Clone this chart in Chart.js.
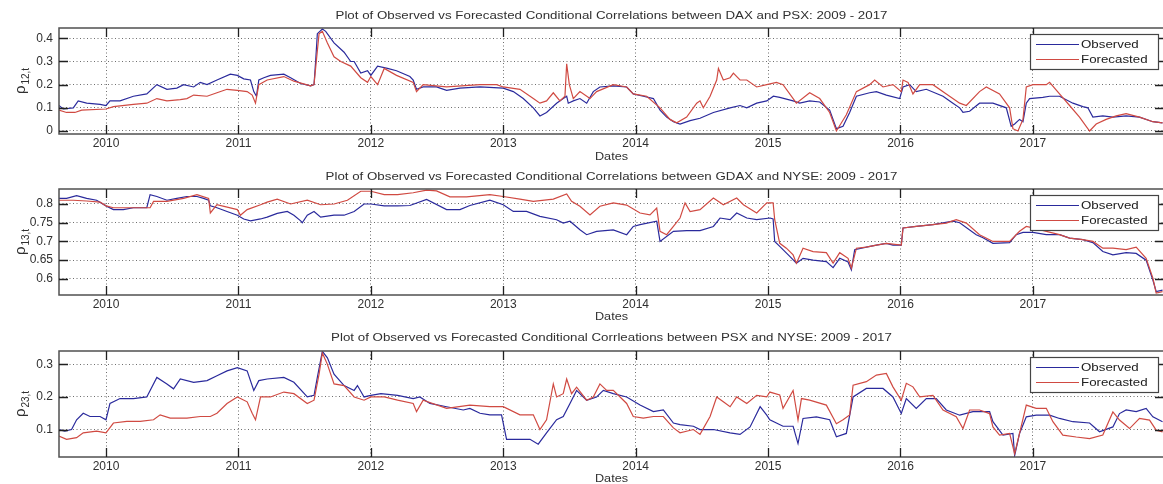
<!DOCTYPE html>
<html><head><meta charset="utf-8">
<script src="https://cdn.jsdelivr.net/npm/chart.js@4"></script>
<style>
body{margin:0;background:#fff;overflow:hidden;width:1163px;height:484px;position:relative}
canvas{position:absolute;left:0}
</style>
</head><body>
<canvas id="c1" width="1165" height="163" style="top:0px"></canvas>
<canvas id="c2" width="1165" height="160" style="top:163px"></canvas>
<canvas id="c3" width="1165" height="161" style="top:323px"></canvas>
<script>
// ---------- data (decimal year, correlation) ----------
const yearTicks = [2010, 2011, 2012, 2013, 2014, 2015, 2016, 2017];
const xLabel = "Dates";
const seriesNames = ["Observed", "Forecasted"];

const title1 = "Plot of Observed vs Forecasted Conditional Correlations between DAX and PSX: 2009 - 2017";
const title2 = "Plot of Observed vs Forecasted Conditional Correlations between GDAX and NYSE: 2009 - 2017";
const title3 = "Plot of Observed vs Forecasted Conditional Corrleations between PSX and NYSE: 2009 - 2017";
const yTicks1 = [0, 0.1, 0.2, 0.3, 0.4];
const yTicks2 = [0.6, 0.65, 0.7, 0.75, 0.8];
const yTicks3 = [0.1, 0.2, 0.3];

const daxPsxObserved = [[2009.644,0.11],[2009.677,0.095],[2009.753,0.1],[2009.790,0.13],[2009.854,0.12],[2009.955,0.115],[2010.000,0.11],[2010.030,0.13],[2010.106,0.13],[2010.207,0.15],[2010.308,0.16],[2010.384,0.2],[2010.460,0.18],[2010.535,0.185],[2010.586,0.2],[2010.662,0.19],[2010.712,0.21],[2010.763,0.2],[2010.838,0.22],[2010.939,0.245],[2010.992,0.24],[2011.040,0.225],[2011.091,0.22],[2011.116,0.17],[2011.136,0.15],[2011.154,0.22],[2011.192,0.23],[2011.242,0.24],[2011.343,0.245],[2011.394,0.23],[2011.470,0.205],[2011.545,0.195],[2011.571,0.2],[2011.583,0.3],[2011.596,0.42],[2011.634,0.44],[2011.659,0.43],[2011.722,0.38],[2011.798,0.34],[2011.848,0.3],[2011.874,0.3],[2011.924,0.25],[2011.975,0.26],[2012.000,0.24],[2012.051,0.28],[2012.126,0.27],[2012.194,0.26],[2012.295,0.235],[2012.320,0.22],[2012.345,0.18],[2012.395,0.19],[2012.496,0.19],[2012.572,0.175],[2012.673,0.185],[2012.824,0.19],[2013.000,0.185],[2013.076,0.17],[2013.151,0.14],[2013.227,0.1],[2013.277,0.065],[2013.327,0.08],[2013.403,0.12],[2013.453,0.14],[2013.479,0.15],[2013.491,0.12],[2013.529,0.13],[2013.579,0.14],[2013.630,0.12],[2013.680,0.17],[2013.730,0.19],[2013.831,0.195],[2013.932,0.19],[2013.982,0.16],[2014.058,0.15],[2014.134,0.14],[2014.184,0.09],[2014.234,0.06],[2014.285,0.04],[2014.335,0.03],[2014.411,0.045],[2014.486,0.055],[2014.587,0.08],[2014.713,0.1],[2014.788,0.11],[2014.839,0.1],[2014.914,0.12],[2014.990,0.13],[2015.040,0.15],[2015.088,0.145],[2015.189,0.13],[2015.239,0.12],[2015.314,0.13],[2015.390,0.125],[2015.465,0.09],[2015.516,0.01],[2015.566,0.02],[2015.616,0.08],[2015.667,0.15],[2015.767,0.165],[2015.818,0.17],[2015.893,0.155],[2015.994,0.14],[2016.019,0.19],[2016.069,0.2],[2016.119,0.17],[2016.195,0.18],[2016.321,0.15],[2016.396,0.12],[2016.447,0.1],[2016.472,0.08],[2016.522,0.085],[2016.597,0.12],[2016.698,0.12],[2016.799,0.1],[2016.836,0.02],[2016.862,0.03],[2016.899,0.05],[2016.925,0.04],[2016.950,0.12],[2016.975,0.14],[2017.075,0.145],[2017.126,0.15],[2017.201,0.15],[2017.302,0.12],[2017.377,0.105],[2017.415,0.1],[2017.453,0.06],[2017.528,0.065],[2017.604,0.06],[2017.704,0.065],[2017.805,0.06],[2017.906,0.04],[2017.979,0.035]];

const daxPsxForecasted = [[2009.644,0.09],[2009.702,0.08],[2009.765,0.08],[2009.816,0.09],[2010.000,0.095],[2010.056,0.105],[2010.207,0.115],[2010.308,0.12],[2010.384,0.14],[2010.460,0.13],[2010.561,0.135],[2010.611,0.14],[2010.662,0.155],[2010.763,0.15],[2010.838,0.165],[2010.914,0.18],[2010.992,0.175],[2011.066,0.17],[2011.104,0.155],[2011.129,0.12],[2011.154,0.2],[2011.217,0.22],[2011.343,0.235],[2011.419,0.215],[2011.545,0.195],[2011.571,0.2],[2011.588,0.3],[2011.609,0.42],[2011.634,0.43],[2011.672,0.38],[2011.722,0.32],[2011.773,0.3],[2011.848,0.28],[2011.924,0.23],[2011.975,0.21],[2012.000,0.235],[2012.051,0.2],[2012.101,0.27],[2012.194,0.24],[2012.320,0.21],[2012.345,0.17],[2012.395,0.2],[2012.572,0.19],[2012.824,0.2],[2012.950,0.2],[2013.000,0.19],[2013.126,0.18],[2013.227,0.14],[2013.277,0.12],[2013.327,0.13],[2013.378,0.165],[2013.428,0.13],[2013.466,0.15],[2013.479,0.29],[2013.499,0.2],[2013.529,0.14],[2013.579,0.17],[2013.655,0.14],[2013.705,0.17],[2013.831,0.2],[2013.932,0.19],[2013.982,0.16],[2014.083,0.15],[2014.184,0.1],[2014.259,0.05],[2014.310,0.035],[2014.385,0.06],[2014.461,0.12],[2014.486,0.13],[2014.511,0.1],[2014.562,0.15],[2014.612,0.22],[2014.625,0.27],[2014.662,0.22],[2014.713,0.23],[2014.738,0.25],[2014.788,0.22],[2014.839,0.22],[2014.914,0.19],[2014.990,0.2],[2015.063,0.21],[2015.113,0.2],[2015.214,0.12],[2015.314,0.165],[2015.390,0.14],[2015.465,0.08],[2015.516,0.0],[2015.591,0.07],[2015.667,0.17],[2015.767,0.2],[2015.805,0.22],[2015.868,0.19],[2015.943,0.2],[2016.006,0.17],[2016.019,0.22],[2016.057,0.21],[2016.094,0.16],[2016.145,0.2],[2016.245,0.2],[2016.346,0.16],[2016.447,0.12],[2016.497,0.11],[2016.597,0.17],[2016.648,0.19],[2016.748,0.16],[2016.824,0.1],[2016.849,0.01],[2016.887,0.0],[2016.925,0.05],[2016.950,0.19],[2017.000,0.2],[2017.101,0.2],[2017.126,0.21],[2017.201,0.16],[2017.277,0.11],[2017.352,0.06],[2017.428,0.0],[2017.478,0.03],[2017.553,0.05],[2017.629,0.065],[2017.704,0.075],[2017.805,0.06],[2017.906,0.04],[2017.979,0.035]];

const gdaxNyseObserved = [[2009.644,0.815],[2009.702,0.815],[2009.778,0.822],[2009.854,0.815],[2009.929,0.81],[2010.000,0.795],[2010.056,0.785],[2010.131,0.785],[2010.207,0.79],[2010.308,0.79],[2010.333,0.825],[2010.384,0.82],[2010.460,0.81],[2010.535,0.815],[2010.611,0.82],[2010.687,0.82],[2010.737,0.815],[2010.775,0.81],[2010.788,0.795],[2010.838,0.79],[2010.914,0.78],[2010.992,0.77],[2011.040,0.76],[2011.091,0.755],[2011.167,0.76],[2011.217,0.765],[2011.293,0.775],[2011.369,0.78],[2011.419,0.77],[2011.470,0.755],[2011.482,0.75],[2011.520,0.77],[2011.571,0.78],[2011.621,0.765],[2011.722,0.77],[2011.798,0.77],[2011.874,0.78],[2011.949,0.8],[2012.000,0.8],[2012.101,0.795],[2012.202,0.795],[2012.295,0.796],[2012.421,0.812],[2012.572,0.785],[2012.673,0.785],[2012.748,0.796],[2012.899,0.81],[2013.000,0.798],[2013.076,0.78],[2013.176,0.78],[2013.277,0.767],[2013.403,0.758],[2013.453,0.749],[2013.504,0.754],[2013.579,0.731],[2013.630,0.718],[2013.705,0.727],[2013.831,0.731],[2013.932,0.718],[2013.982,0.74],[2014.033,0.745],[2014.159,0.754],[2014.184,0.70],[2014.285,0.727],[2014.385,0.729],[2014.486,0.729],[2014.587,0.74],[2014.637,0.7625],[2014.713,0.758],[2014.763,0.776],[2014.839,0.7625],[2014.914,0.758],[2015.015,0.7625],[2015.038,0.76],[2015.050,0.7],[2015.088,0.687],[2015.164,0.66],[2015.214,0.642],[2015.264,0.655],[2015.340,0.65],[2015.440,0.646],[2015.491,0.63],[2015.541,0.655],[2015.604,0.645],[2015.629,0.624],[2015.654,0.678],[2015.742,0.685],[2015.818,0.69],[2015.893,0.695],[2015.943,0.69],[2016.006,0.69],[2016.019,0.736],[2016.119,0.74],[2016.245,0.745],[2016.396,0.754],[2016.447,0.75],[2016.572,0.718],[2016.623,0.71],[2016.698,0.695],[2016.824,0.697],[2016.874,0.718],[2016.925,0.724],[2017.000,0.724],[2017.101,0.718],[2017.201,0.718],[2017.277,0.709],[2017.377,0.705],[2017.453,0.697],[2017.528,0.673],[2017.604,0.664],[2017.704,0.67],[2017.780,0.668],[2017.855,0.65],[2017.906,0.597],[2017.931,0.566],[2017.979,0.57]];

const gdaxNyseForecasted = [[2009.644,0.81],[2009.753,0.81],[2009.854,0.808],[2009.955,0.805],[2010.000,0.795],[2010.056,0.79],[2010.207,0.79],[2010.333,0.79],[2010.359,0.807],[2010.460,0.807],[2010.586,0.815],[2010.687,0.825],[2010.775,0.815],[2010.788,0.776],[2010.838,0.798],[2010.992,0.785],[2011.015,0.77],[2011.066,0.785],[2011.167,0.798],[2011.217,0.805],[2011.293,0.813],[2011.394,0.8],[2011.520,0.81],[2011.621,0.798],[2011.722,0.8],[2011.823,0.81],[2011.924,0.834],[2012.000,0.834],[2012.101,0.825],[2012.202,0.825],[2012.320,0.83],[2012.421,0.837],[2012.496,0.835],[2012.597,0.819],[2012.723,0.819],[2012.899,0.825],[2013.000,0.82],[2013.126,0.813],[2013.227,0.807],[2013.378,0.813],[2013.479,0.827],[2013.516,0.807],[2013.579,0.794],[2013.655,0.771],[2013.730,0.794],[2013.831,0.803],[2013.932,0.797],[2014.033,0.776],[2014.108,0.771],[2014.159,0.789],[2014.184,0.727],[2014.234,0.718],[2014.285,0.74],[2014.335,0.7625],[2014.373,0.803],[2014.411,0.78],[2014.486,0.785],[2014.587,0.816],[2014.662,0.798],[2014.763,0.816],[2014.814,0.798],[2014.914,0.776],[2014.990,0.803],[2015.038,0.803],[2015.050,0.758],[2015.088,0.695],[2015.138,0.682],[2015.189,0.664],[2015.214,0.642],[2015.264,0.682],[2015.340,0.673],[2015.440,0.67],[2015.491,0.642],[2015.541,0.67],[2015.604,0.655],[2015.629,0.629],[2015.667,0.682],[2015.742,0.685],[2015.818,0.69],[2015.893,0.695],[2016.006,0.69],[2016.019,0.736],[2016.119,0.74],[2016.245,0.745],[2016.346,0.749],[2016.421,0.758],[2016.497,0.749],[2016.597,0.718],[2016.698,0.70],[2016.824,0.70],[2016.899,0.727],[2016.950,0.74],[2017.000,0.736],[2017.101,0.727],[2017.201,0.718],[2017.277,0.709],[2017.377,0.705],[2017.453,0.70],[2017.528,0.682],[2017.604,0.682],[2017.704,0.678],[2017.780,0.685],[2017.855,0.655],[2017.906,0.602],[2017.931,0.562],[2017.979,0.566]];

const psxNyseObserved = [[2009.644,0.1],[2009.689,0.095],[2009.740,0.1],[2009.778,0.13],[2009.828,0.15],[2009.879,0.14],[2009.955,0.14],[2010.000,0.13],[2010.030,0.18],[2010.106,0.195],[2010.207,0.195],[2010.308,0.2],[2010.384,0.26],[2010.460,0.24],[2010.510,0.225],[2010.561,0.255],[2010.662,0.245],[2010.763,0.25],[2010.838,0.265],[2010.914,0.28],[2010.992,0.29],[2011.066,0.28],[2011.116,0.22],[2011.154,0.25],[2011.217,0.255],[2011.343,0.26],[2011.419,0.245],[2011.520,0.2],[2011.571,0.205],[2011.596,0.26],[2011.634,0.34],[2011.672,0.32],[2011.722,0.27],[2011.798,0.235],[2011.874,0.22],[2011.899,0.235],[2011.949,0.2],[2012.000,0.205],[2012.076,0.21],[2012.202,0.205],[2012.320,0.195],[2012.370,0.2],[2012.446,0.18],[2012.572,0.17],[2012.698,0.16],[2012.748,0.165],[2012.824,0.15],[2012.899,0.145],[2012.987,0.145],[2013.025,0.07],[2013.126,0.07],[2013.202,0.07],[2013.264,0.055],[2013.327,0.09],[2013.403,0.13],[2013.453,0.14],[2013.504,0.18],[2013.554,0.22],[2013.630,0.19],[2013.705,0.2],[2013.756,0.22],[2013.831,0.21],[2013.932,0.2],[2014.033,0.175],[2014.134,0.155],[2014.209,0.16],[2014.285,0.12],[2014.335,0.115],[2014.436,0.11],[2014.486,0.1],[2014.587,0.1],[2014.713,0.09],[2014.788,0.085],[2014.864,0.108],[2014.940,0.17],[2014.990,0.144],[2015.013,0.13],[2015.113,0.11],[2015.189,0.11],[2015.226,0.057],[2015.264,0.134],[2015.365,0.139],[2015.465,0.13],[2015.516,0.078],[2015.591,0.088],[2015.642,0.2],[2015.742,0.226],[2015.868,0.226],[2015.943,0.2],[2016.006,0.149],[2016.044,0.195],[2016.119,0.165],[2016.195,0.195],[2016.270,0.195],[2016.346,0.16],[2016.447,0.144],[2016.547,0.155],[2016.673,0.155],[2016.698,0.124],[2016.774,0.083],[2016.849,0.088],[2016.862,0.02],[2016.899,0.088],[2016.950,0.139],[2017.025,0.144],[2017.126,0.144],[2017.201,0.134],[2017.302,0.124],[2017.428,0.12],[2017.503,0.093],[2017.604,0.108],[2017.654,0.149],[2017.704,0.16],[2017.780,0.155],[2017.855,0.165],[2017.906,0.139],[2017.979,0.124]];

const psxNyseForecasted = [[2009.644,0.08],[2009.702,0.07],[2009.778,0.075],[2009.828,0.09],[2009.929,0.095],[2010.000,0.09],[2010.056,0.12],[2010.157,0.125],[2010.258,0.125],[2010.359,0.13],[2010.409,0.145],[2010.485,0.135],[2010.611,0.135],[2010.712,0.14],[2010.788,0.14],[2010.838,0.15],[2010.914,0.18],[2010.992,0.2],[2011.066,0.185],[2011.104,0.15],[2011.129,0.13],[2011.167,0.2],[2011.242,0.2],[2011.343,0.215],[2011.419,0.21],[2011.520,0.18],[2011.571,0.19],[2011.609,0.27],[2011.634,0.335],[2011.672,0.3],[2011.722,0.24],[2011.798,0.235],[2011.874,0.2],[2011.949,0.19],[2012.000,0.2],[2012.101,0.2],[2012.202,0.19],[2012.320,0.18],[2012.345,0.155],[2012.395,0.19],[2012.572,0.165],[2012.748,0.175],[2012.899,0.17],[2013.000,0.17],[2013.126,0.145],[2013.227,0.145],[2013.277,0.1],[2013.327,0.13],[2013.378,0.24],[2013.403,0.2],[2013.453,0.21],[2013.479,0.255],[2013.516,0.21],[2013.554,0.23],[2013.630,0.19],[2013.680,0.2],[2013.730,0.24],[2013.781,0.22],[2013.831,0.22],[2013.932,0.18],[2013.982,0.14],[2014.058,0.135],[2014.134,0.14],[2014.209,0.14],[2014.285,0.105],[2014.335,0.09],[2014.436,0.1],[2014.486,0.085],[2014.562,0.14],[2014.612,0.2],[2014.662,0.185],[2014.713,0.17],[2014.763,0.2],[2014.839,0.18],[2014.914,0.205],[2014.990,0.2],[2015.013,0.215],[2015.088,0.206],[2015.113,0.165],[2015.189,0.22],[2015.226,0.129],[2015.252,0.195],[2015.314,0.19],[2015.440,0.175],[2015.516,0.118],[2015.566,0.13],[2015.616,0.145],[2015.642,0.236],[2015.742,0.247],[2015.818,0.267],[2015.893,0.272],[2015.943,0.231],[2016.006,0.19],[2016.044,0.242],[2016.094,0.231],[2016.145,0.2],[2016.245,0.205],[2016.321,0.16],[2016.421,0.139],[2016.472,0.103],[2016.522,0.16],[2016.597,0.16],[2016.673,0.149],[2016.698,0.108],[2016.748,0.083],[2016.824,0.088],[2016.862,0.026],[2016.899,0.088],[2016.950,0.175],[2017.025,0.165],[2017.101,0.165],[2017.151,0.124],[2017.226,0.083],[2017.327,0.077],[2017.428,0.072],[2017.528,0.083],[2017.604,0.154],[2017.654,0.129],[2017.730,0.103],[2017.805,0.134],[2017.881,0.129],[2017.931,0.098],[2017.979,0.093]];

// ---------- drawing ----------
const FONT = "'Liberation Sans', Arial, sans-serif";
const BLUE = '#2a2a9c';
const RED = '#d04a42';
const STRETCH = 1.21;

Chart.defaults.font.family = FONT;

function stretchedText(ctx, text, x, y, size, align, color, sx) {
  ctx.save();
  ctx.translate(x, y);
  ctx.scale(sx, 1);
  ctx.font = size + 'px ' + FONT;
  ctx.fillStyle = color;
  ctx.textAlign = align;
  ctx.textBaseline = 'middle';
  ctx.fillText(text, 0, 0);
  ctx.restore();
}

const decorPlugin = {
  id: 'decor',
  afterDraw(chart, args, o) {
    const ctx = chart.ctx, a = chart.chartArea;
    const xs = chart.scales.x, ys = chart.scales.y;
    ctx.save();
    // box
    ctx.strokeStyle = '#505050';
    ctx.lineWidth = 1.5;
    ctx.setLineDash([]);
    ctx.strokeRect(a.left, a.top, a.right - a.left, a.bottom - a.top);
    // inward tick marks
    ctx.strokeStyle = '#202020';
    ctx.lineWidth = 1.3;
    const TL = 9;
    ctx.beginPath();
    xs.ticks.forEach(t => {
      const px = Math.round(xs.getPixelForValue(t.value)) + 0.5;
      ctx.moveTo(px, a.bottom); ctx.lineTo(px, a.bottom - TL);
      ctx.moveTo(px, a.top); ctx.lineTo(px, a.top + TL);
    });
    ys.ticks.forEach(t => {
      const py = Math.round(ys.getPixelForValue(t.value)) + 0.5;
      ctx.moveTo(a.left, py); ctx.lineTo(a.left + TL, py);
      ctx.moveTo(a.right, py); ctx.lineTo(a.right - TL, py);
    });
    ctx.stroke();
    const cx = (a.left + a.right) / 2;
    // title and x label
    stretchedText(ctx, o.title, cx, o.titleY, 11, 'center', '#303030', STRETCH);
    stretchedText(ctx, xLabel, cx, o.datesY, 11, 'center', '#303030', 1.15);
    // y label rho with subscript
    ctx.save();
    ctx.translate(21, (a.top + a.bottom) / 2);
    ctx.rotate(-Math.PI / 2);
    ctx.fillStyle = '#303030';
    ctx.textBaseline = 'alphabetic';
    ctx.textAlign = 'left';
    ctx.font = '15px ' + FONT;
    const wR = ctx.measureText('\u03c1').width;
    ctx.font = '10px ' + FONT;
    const wS = ctx.measureText(o.sub).width;
    const x0 = -(wR + wS + 1) / 2;
    ctx.font = '15px ' + FONT;
    ctx.fillText('\u03c1', x0, 4);
    ctx.font = '10px ' + FONT;
    ctx.fillText(o.sub, x0 + wR + 1, 8);
    ctx.restore();
    // legend
    const lx = 1030, lw = 128, ly = a.top + 6, lh = 35;
    ctx.fillStyle = '#ffffff';
    ctx.fillRect(lx, ly, lw, lh);
    ctx.strokeStyle = '#454545';
    ctx.lineWidth = 1.2;
    ctx.strokeRect(lx + 0.5, ly + 0.5, lw, lh);
    const legendOrder = [...chart.data.datasets].sort((p, q) => p.legendIndex - q.legendIndex);
    legendOrder.forEach((ds, i) => {
      const yy = ly + 10.5 + i * 15;
      ctx.strokeStyle = ds.borderColor;
      ctx.lineWidth = 1.2;
      ctx.beginPath(); ctx.moveTo(lx + 6, yy); ctx.lineTo(lx + 49, yy); ctx.stroke();
      stretchedText(ctx, ds.label, lx + 51, yy, 11, 'left', '#202020', STRETCH);
    });
    ctx.restore();
  }
};

function pts(arr) { return arr.map(p => ({ x: p[0], y: p[1] })); }

function makePanel(id, cfg) {
  const tickFont = { family: FONT, size: 12 };
  return new Chart(document.getElementById(id), {
    type: 'line',
    data: {
      datasets: [
        { label: seriesNames[0], data: pts(cfg.obs), borderColor: BLUE, borderWidth: 1.2, pointRadius: 0, tension: 0, order: 1, legendIndex: 0 },
        { label: seriesNames[1], data: pts(cfg.fc), borderColor: RED, borderWidth: 1.2, pointRadius: 0, tension: 0, order: 0, legendIndex: 1 }
      ]
    },
    options: {
      responsive: false,
      animation: false,
      events: [],
      layout: { padding: { top: cfg.padTop, left: 0, right: 1, bottom: 0 } },
      plugins: {
        legend: { display: false },
        tooltip: { enabled: false },
        title: { display: false },
        decor: { title: cfg.title, sub: cfg.sub, titleY: cfg.titleY, datesY: cfg.datesY }
      },
      scales: {
        x: {
          type: 'linear', min: 2009.645, max: 2017.99,
          afterBuildTicks: s => { s.ticks = yearTicks.map(v => ({ value: v })); },
          afterFit: s => { s.height = cfg.axisH; },
          ticks: { font: tickFont, color: '#303030', padding: 2, maxRotation: 0, autoSkip: false, callback: v => String(v) },
          grid: { color: '#6e6e6e', lineWidth: 1, drawTicks: false },
          border: { display: false, dash: [1, 2.5] }
        },
        y: {
          min: cfg.yMin, max: cfg.yMax,
          afterBuildTicks: s => { s.ticks = cfg.yTicks.map(v => ({ value: v })); },
          afterFit: s => { s.width = 59; },
          ticks: { font: tickFont, color: '#303030', padding: 6, callback: v => String(v) },
          grid: { color: '#6e6e6e', lineWidth: 1, drawTicks: false },
          border: { display: false, dash: [1, 2.5] }
        }
      }
    },
    plugins: [decorPlugin]
  });
}

makePanel('c1', { obs: daxPsxObserved, fc: daxPsxForecasted, title: title1, sub: '12,t', yTicks: yTicks1, yMin: -0.013, yMax: 0.4445, padTop: 28, axisH: 29, titleY: 16, datesY: 157 });
makePanel('c2', { obs: gdaxNyseObserved, fc: gdaxNyseForecasted, title: title2, sub: '13,t', yTicks: yTicks2, yMin: 0.557, yMax: 0.840, padTop: 26, axisH: 28, titleY: 14, datesY: 154 });
makePanel('c3', { obs: psxNyseObserved, fc: psxNyseForecasted, title: title3, sub: '23,t', yTicks: yTicks3, yMin: 0.0157, yMax: 0.341, padTop: 28, axisH: 27, titleY: 15, datesY: 156 });
</script>
</body></html>
